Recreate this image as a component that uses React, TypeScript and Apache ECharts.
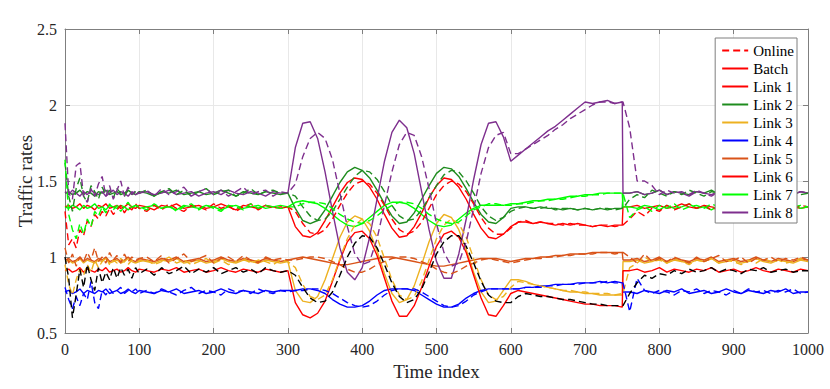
import React, { useEffect, useRef } from "react";
import * as echarts from "echarts";

// Time index samples (x values)
const T = [
  0, 5, 10, 15, 20, 25, 30, 35, 40, 45, 50, 55, 60, 65, 70, 75, 80, 85, 90, 95, 100,
  110, 120, 130, 140, 150, 160, 170, 180, 190, 200, 210, 220, 230, 240, 250, 260, 270, 280, 290,
  300, 310, 320, 330, 340, 350, 360, 370, 380, 390, 400, 410, 420, 430, 440, 450, 460, 470, 480, 490, 500,
  510, 520, 530, 540, 550, 560, 570, 580, 590, 600,
  610, 620, 630, 640, 650, 660, 670, 680, 690, 700, 710, 720, 730, 740, 750,
  751,
  760, 770, 780, 790, 800, 810, 820, 830, 840, 850, 860, 870, 880, 890, 900, 910, 920, 930, 940, 950, 960, 970, 980, 990, 1000,
];

const X_TICKS = [0, 100, 200, 300, 400, 500, 600, 700, 800, 900, 1000];
const Y_TICKS = [0.5, 1, 1.5, 2, 2.5];

// Link 1 (upper red)
const L1_BATCH = [
  1.33, 1.34, 1.32, 1.33, 1.35, 1.32, 1.34, 1.33, 1.31, 1.34, 1.33, 1.35, 1.32, 1.33, 1.34, 1.32, 1.33, 1.35, 1.33, 1.32, 1.34,
  1.33, 1.31, 1.34, 1.33, 1.35, 1.32, 1.33, 1.34, 1.32, 1.33, 1.35, 1.33, 1.31, 1.34, 1.33, 1.32, 1.34, 1.33, 1.32,
  1.33, 1.20, 1.14, 1.13, 1.16, 1.24, 1.33, 1.42, 1.49, 1.52, 1.51, 1.46, 1.38, 1.28, 1.19, 1.13, 1.14, 1.20, 1.29, 1.39, 1.47, 1.52, 1.51, 1.46, 1.38, 1.28, 1.19, 1.13, 1.12, 1.15, 1.20,
  1.23, 1.23, 1.22, 1.23, 1.22, 1.21, 1.22, 1.21, 1.22, 1.21, 1.20, 1.21, 1.20, 1.21, 1.21,
  1.33,
  1.33, 1.34, 1.32, 1.33, 1.34, 1.32, 1.33, 1.35, 1.33, 1.32, 1.34, 1.33, 1.32, 1.34, 1.33, 1.35, 1.32, 1.33, 1.34, 1.33, 1.32, 1.34, 1.33, 1.32, 1.33,
];
const L1_ONLINE = [
  1.30, 1.08, 1.12, 1.06, 1.18, 1.14, 1.24, 1.20, 1.28, 1.25, 1.30, 1.27, 1.32, 1.28, 1.31, 1.34, 1.29, 1.33, 1.31, 1.35, 1.32,
  1.30, 1.34, 1.31, 1.35, 1.32, 1.30, 1.34, 1.33, 1.31, 1.35, 1.32, 1.34, 1.30, 1.33, 1.35, 1.31, 1.34, 1.32, 1.33,
  1.33, 1.30, 1.22, 1.16, 1.15, 1.18, 1.25, 1.34, 1.42, 1.48, 1.50, 1.48, 1.42, 1.34, 1.25, 1.18, 1.15, 1.17, 1.23, 1.32, 1.41, 1.47, 1.50, 1.48, 1.43, 1.35, 1.26, 1.19, 1.15, 1.15, 1.19,
  1.23, 1.24, 1.22, 1.23, 1.22, 1.22, 1.21, 1.22, 1.21, 1.21, 1.20, 1.21, 1.21, 1.20, 1.21,
  1.21,
  1.25, 1.30, 1.27, 1.32, 1.30, 1.34, 1.31, 1.33, 1.35, 1.32, 1.34, 1.31, 1.33, 1.35, 1.32, 1.34, 1.31, 1.33, 1.35, 1.32, 1.34, 1.33, 1.31, 1.34, 1.33,
];
// Link 2 (dark green)
const L2_BATCH = [
  1.42, 1.43, 1.41, 1.42, 1.44, 1.41, 1.43, 1.42, 1.40, 1.43, 1.42, 1.44, 1.41, 1.42, 1.43, 1.41, 1.42, 1.44, 1.42, 1.41, 1.43,
  1.42, 1.40, 1.43, 1.42, 1.44, 1.41, 1.42, 1.43, 1.41, 1.42, 1.44, 1.42, 1.40, 1.43, 1.42, 1.41, 1.43, 1.42, 1.41,
  1.42, 1.32, 1.24, 1.22, 1.24, 1.31, 1.40, 1.49, 1.56, 1.59, 1.57, 1.52, 1.44, 1.35, 1.27, 1.22, 1.23, 1.29, 1.38, 1.47, 1.55, 1.59, 1.58, 1.53, 1.45, 1.36, 1.28, 1.23, 1.22, 1.26, 1.32,
  1.33, 1.33, 1.32, 1.33, 1.32, 1.32, 1.31, 1.32, 1.31, 1.32, 1.31, 1.32, 1.31, 1.32, 1.32,
  1.42,
  1.42, 1.43, 1.41, 1.42, 1.44, 1.41, 1.43, 1.42, 1.41, 1.43, 1.42, 1.44, 1.41, 1.42, 1.43, 1.41, 1.42, 1.44, 1.42, 1.41, 1.43, 1.42, 1.41, 1.43, 1.42,
];
const L2_ONLINE = [
  1.62, 1.40, 1.30, 1.45, 1.52, 1.40, 1.36, 1.47, 1.43, 1.38, 1.46, 1.41, 1.44, 1.39, 1.45, 1.42, 1.40, 1.44, 1.41, 1.43, 1.42,
  1.44, 1.40, 1.43, 1.45, 1.41, 1.44, 1.40, 1.43, 1.45, 1.41, 1.43, 1.44, 1.40, 1.42, 1.45, 1.41, 1.43, 1.44, 1.42,
  1.42, 1.40, 1.33, 1.27, 1.24, 1.25, 1.30, 1.38, 1.46, 1.53, 1.57, 1.56, 1.51, 1.43, 1.34, 1.27, 1.24, 1.25, 1.31, 1.39, 1.47, 1.54, 1.57, 1.56, 1.50, 1.42, 1.33, 1.27, 1.24, 1.26, 1.30,
  1.32, 1.33, 1.32, 1.32, 1.33, 1.31, 1.32, 1.32, 1.31, 1.32, 1.31, 1.32, 1.32, 1.31, 1.32,
  1.32,
  1.38, 1.41, 1.39, 1.44, 1.42, 1.40, 1.43, 1.41, 1.44, 1.42, 1.40, 1.43, 1.42, 1.44, 1.41, 1.43, 1.42, 1.40, 1.43, 1.44, 1.41, 1.42, 1.43, 1.41, 1.42,
];
// Link 3 (yellow-orange)
const L3_BATCH = [
  0.97, 0.98, 0.96, 0.97, 0.99, 0.96, 0.98, 0.97, 0.96, 0.98, 0.97, 0.99, 0.96, 0.97, 0.98, 0.96, 0.97, 0.99, 0.97, 0.96, 0.98,
  0.97, 0.96, 0.98, 0.97, 0.99, 0.96, 0.97, 0.98, 0.96, 0.97, 0.99, 0.97, 0.96, 0.98, 0.97, 0.96, 0.98, 0.97, 0.96,
  0.97, 0.78, 0.71, 0.70, 0.74, 0.85, 0.99, 1.13, 1.23, 1.27, 1.25, 1.17, 1.04, 0.89, 0.76, 0.70, 0.72, 0.81, 0.95, 1.10, 1.22, 1.28, 1.26, 1.18, 1.05, 0.90, 0.77, 0.70, 0.71, 0.78, 0.85,
  0.85, 0.84, 0.82, 0.81, 0.80, 0.79, 0.78, 0.77, 0.77, 0.76, 0.76, 0.75, 0.75, 0.75, 0.75,
  0.97,
  0.97, 0.98, 0.96, 0.97, 0.99, 0.96, 0.98, 0.97, 0.96, 0.98, 0.97, 0.99, 0.96, 0.97, 0.98, 0.96, 0.97, 0.99, 0.97, 0.96, 0.98, 0.97, 0.96, 0.98, 0.97,
];
const L3_ONLINE = [
  0.95, 0.82, 0.75, 0.85, 0.92, 0.88, 0.95, 0.90, 0.98, 0.93, 0.97, 1.00, 0.95, 0.98, 0.96, 0.99, 0.97, 0.95, 0.98, 0.96, 0.97,
  0.98, 0.95, 0.97, 1.00, 0.96, 0.98, 0.95, 0.97, 0.99, 0.96, 0.98, 0.95, 0.97, 0.99, 0.96, 0.98, 0.97, 0.95, 0.98,
  0.97, 0.93, 0.82, 0.74, 0.72, 0.75, 0.85, 0.99, 1.12, 1.21, 1.25, 1.22, 1.13, 0.99, 0.85, 0.75, 0.72, 0.74, 0.84, 0.98, 1.12, 1.21, 1.25, 1.22, 1.13, 0.99, 0.85, 0.75, 0.72, 0.74, 0.80,
  0.84, 0.83, 0.82, 0.81, 0.80, 0.79, 0.78, 0.78, 0.77, 0.77, 0.76, 0.76, 0.76, 0.75, 0.76,
  0.76,
  0.93, 0.96, 1.00, 0.97, 0.98, 0.96, 0.99, 0.97, 0.95, 0.98, 0.97, 0.99, 0.96, 0.98, 0.97, 0.95, 0.98, 0.96, 0.99, 0.97, 0.98, 0.96, 0.97, 0.99, 0.97,
];
// Link 4 (blue)
const L4_BATCH = [
  0.77, 0.78, 0.76, 0.77, 0.79, 0.76, 0.78, 0.77, 0.76, 0.78, 0.77, 0.79, 0.76, 0.77, 0.78, 0.76, 0.77, 0.79, 0.77, 0.76, 0.78,
  0.77, 0.76, 0.78, 0.77, 0.79, 0.76, 0.77, 0.78, 0.76, 0.77, 0.79, 0.77, 0.76, 0.78, 0.77, 0.76, 0.78, 0.77, 0.78,
  0.78, 0.78, 0.79, 0.79, 0.78, 0.76, 0.72, 0.69, 0.67, 0.67, 0.68, 0.71, 0.75, 0.78, 0.79, 0.79, 0.79, 0.78, 0.75, 0.72, 0.69, 0.67, 0.67, 0.69, 0.73, 0.76, 0.78, 0.79, 0.79, 0.79, 0.79,
  0.79, 0.80, 0.80, 0.81, 0.81, 0.82, 0.82, 0.82, 0.83, 0.83, 0.83, 0.84, 0.83, 0.84, 0.83,
  0.77,
  0.77, 0.76, 0.78, 0.77, 0.76, 0.78, 0.77, 0.79, 0.76, 0.77, 0.78, 0.76, 0.77, 0.79, 0.77, 0.76, 0.78, 0.77, 0.76, 0.78, 0.77, 0.79, 0.76, 0.77, 0.77,
];
const L4_ONLINE = [
  0.80, 0.72, 0.66, 0.74, 0.68, 0.76, 0.72, 0.84, 0.70, 0.66, 0.78, 0.75, 0.79, 0.76, 0.78, 0.80, 0.76, 0.78, 0.77, 0.79, 0.76,
  0.78, 0.76, 0.79, 0.77, 0.75, 0.78, 0.80, 0.76, 0.78, 0.77, 0.75, 0.79, 0.77, 0.78, 0.76, 0.79, 0.77, 0.76, 0.78,
  0.77, 0.78, 0.78, 0.79, 0.79, 0.78, 0.76, 0.73, 0.70, 0.68, 0.67, 0.68, 0.71, 0.75, 0.78, 0.79, 0.79, 0.79, 0.77, 0.74, 0.71, 0.68, 0.67, 0.68, 0.71, 0.75, 0.77, 0.79, 0.79, 0.79, 0.79,
  0.79, 0.80, 0.80, 0.80, 0.81, 0.81, 0.82, 0.82, 0.82, 0.83, 0.83, 0.83, 0.84, 0.83, 0.83,
  0.83,
  0.64, 0.86, 0.78, 0.76, 0.78, 0.77, 0.75, 0.78, 0.77, 0.79, 0.76, 0.78, 0.77, 0.75, 0.78, 0.76, 0.79, 0.77, 0.78, 0.76, 0.78, 0.77, 0.79, 0.76, 0.77,
];
// Link 5 (dark orange)
const L5_BATCH = [
  0.98, 0.99, 0.97, 0.98, 1.00, 0.97, 0.99, 0.98, 0.97, 0.99, 0.98, 1.00, 0.97, 0.98, 0.99, 0.97, 0.98, 1.00, 0.98, 0.97, 0.99,
  0.98, 0.97, 0.99, 0.98, 1.00, 0.97, 0.98, 0.99, 0.97, 0.98, 1.00, 0.98, 0.97, 0.99, 0.98, 0.97, 0.99, 0.98, 0.97,
  0.98, 0.99, 1.00, 0.99, 0.98, 0.97, 0.96, 0.95, 0.95, 0.96, 0.97, 0.98, 0.99, 1.00, 1.00, 0.99, 0.98, 0.97, 0.96, 0.95, 0.94, 0.94, 0.95, 0.96, 0.97, 0.98, 0.99, 0.99, 0.99, 0.98, 0.97,
  0.98, 0.99, 0.99, 1.00, 1.00, 1.01, 1.01, 1.02, 1.02, 1.02, 1.03, 1.03, 1.03, 1.03, 1.03,
  0.98,
  0.98, 0.99, 0.97, 0.98, 1.00, 0.97, 0.99, 0.98, 0.97, 0.99, 0.98, 1.00, 0.97, 0.98, 0.99, 0.97, 0.98, 1.00, 0.98, 0.97, 0.99, 0.98, 0.97, 0.99, 0.98,
];
const L5_ONLINE = [
  1.06, 0.96, 1.02, 0.94, 1.00, 0.97, 1.03, 0.98, 1.06, 0.97, 1.00, 0.96, 1.03, 0.98, 1.01, 0.96, 1.02, 0.97, 1.00, 0.98, 0.99,
  1.00, 0.97, 1.01, 0.96, 0.99, 1.02, 0.97, 0.99, 1.01, 0.96, 0.99, 1.00, 0.97, 1.01, 0.98, 0.96, 1.00, 0.98, 0.99,
  0.98, 0.98, 0.99, 1.00, 1.00, 0.99, 0.97, 0.95, 0.92, 0.90, 0.90, 0.92, 0.95, 0.97, 0.99, 1.00, 1.00, 0.99, 0.97, 0.95, 0.92, 0.90, 0.89, 0.91, 0.94, 0.96, 0.98, 0.99, 0.98, 0.97, 0.96,
  0.97, 0.98, 0.99, 0.99, 1.00, 1.00, 1.01, 1.01, 1.02, 1.02, 1.02, 1.03, 1.03, 1.02, 1.03,
  1.03,
  1.00, 0.96, 1.02, 0.97, 0.99, 0.97, 1.00, 0.98, 0.96, 1.00, 0.97, 0.99, 1.01, 0.97, 0.98, 1.00, 0.96, 0.99, 0.98, 1.00, 0.97, 0.99, 0.98, 1.00, 0.98,
];
// Link 6 (lower red; online drawn black)
const L6_BATCH = [
  0.91, 0.92, 0.90, 0.91, 0.93, 0.90, 0.92, 0.91, 0.90, 0.92, 0.91, 0.93, 0.90, 0.91, 0.92, 0.90, 0.91, 0.93, 0.91, 0.90, 0.92,
  0.91, 0.90, 0.92, 0.91, 0.93, 0.90, 0.91, 0.92, 0.90, 0.91, 0.93, 0.91, 0.90, 0.92, 0.91, 0.90, 0.92, 0.91, 0.90,
  0.91, 0.70, 0.62, 0.60, 0.63, 0.71, 0.84, 0.98, 1.10, 1.16, 1.17, 1.12, 1.01, 0.86, 0.71, 0.61, 0.61, 0.68, 0.80, 0.94, 1.07, 1.15, 1.17, 1.13, 1.03, 0.88, 0.73, 0.62, 0.61, 0.68, 0.76,
  0.78, 0.77, 0.76, 0.75, 0.74, 0.73, 0.72, 0.71, 0.70, 0.69, 0.69, 0.68, 0.68, 0.68, 0.67,
  0.91,
  0.91, 0.92, 0.90, 0.91, 0.93, 0.90, 0.92, 0.91, 0.90, 0.92, 0.91, 0.93, 0.90, 0.91, 0.92, 0.90, 0.91, 0.93, 0.91, 0.90, 0.92, 0.91, 0.90, 0.92, 0.91,
];
const L6_ONLINE = [
  1.00, 0.86, 0.60, 0.75, 0.92, 0.80, 0.95, 0.85, 0.78, 0.93, 0.83, 0.90, 0.85, 0.93, 0.86, 0.93, 0.88, 0.92, 0.86, 0.93, 0.89,
  0.92, 0.88, 0.93, 0.89, 0.91, 0.94, 0.89, 0.92, 0.90, 0.93, 0.89, 0.91, 0.93, 0.90, 0.92, 0.89, 0.93, 0.91, 0.90,
  0.91, 0.88, 0.80, 0.73, 0.70, 0.71, 0.77, 0.88, 1.00, 1.09, 1.14, 1.13, 1.06, 0.95, 0.83, 0.74, 0.70, 0.72, 0.79, 0.90, 1.02, 1.10, 1.14, 1.14, 1.07, 0.96, 0.84, 0.75, 0.71, 0.70, 0.70,
  0.74, 0.76, 0.75, 0.74, 0.74, 0.73, 0.72, 0.72, 0.71, 0.70, 0.69, 0.69, 0.68, 0.68, 0.68,
  0.68,
  0.76, 0.83, 0.88, 0.86, 0.89, 0.88, 0.91, 0.89, 0.92, 0.90, 0.91, 0.93, 0.90, 0.92, 0.91, 0.89, 0.92, 0.91, 0.93, 0.90, 0.91, 0.92, 0.90, 0.91, 0.91,
];
// Link 7 (bright green)
const L7_BATCH = [
  1.33, 1.32, 1.34, 1.33, 1.31, 1.34, 1.32, 1.33, 1.35, 1.32, 1.33, 1.31, 1.34, 1.33, 1.32, 1.34, 1.33, 1.31, 1.33, 1.34, 1.32,
  1.33, 1.34, 1.32, 1.33, 1.31, 1.34, 1.33, 1.32, 1.34, 1.33, 1.31, 1.33, 1.34, 1.32, 1.33, 1.34, 1.32, 1.33, 1.34,
  1.33, 1.36, 1.37, 1.36, 1.35, 1.32, 1.28, 1.24, 1.21, 1.20, 1.22, 1.26, 1.30, 1.34, 1.36, 1.36, 1.35, 1.32, 1.28, 1.24, 1.21, 1.20, 1.21, 1.25, 1.29, 1.32, 1.34, 1.34, 1.34, 1.34, 1.35,
  1.35, 1.36, 1.37, 1.37, 1.38, 1.38, 1.39, 1.40, 1.40, 1.41, 1.41, 1.42, 1.42, 1.42, 1.42,
  1.33,
  1.33, 1.32, 1.34, 1.33, 1.31, 1.34, 1.32, 1.33, 1.35, 1.32, 1.33, 1.31, 1.34, 1.33, 1.32, 1.34, 1.33, 1.31, 1.33, 1.34, 1.32, 1.33, 1.34, 1.32, 1.33,
];
const L7_ONLINE = [
  1.64, 1.28, 1.18, 1.12, 1.22, 1.15, 1.25, 1.20, 1.30, 1.27, 1.33, 1.29, 1.35, 1.31, 1.34, 1.30, 1.33, 1.36, 1.32, 1.34, 1.33,
  1.31, 1.35, 1.32, 1.34, 1.30, 1.33, 1.35, 1.31, 1.34, 1.32, 1.30, 1.34, 1.33, 1.31, 1.35, 1.32, 1.34, 1.33, 1.32,
  1.33, 1.33, 1.35, 1.36, 1.36, 1.35, 1.32, 1.28, 1.25, 1.23, 1.22, 1.24, 1.27, 1.31, 1.34, 1.36, 1.36, 1.35, 1.32, 1.28, 1.25, 1.23, 1.22, 1.23, 1.27, 1.31, 1.33, 1.35, 1.35, 1.34, 1.34,
  1.35, 1.35, 1.36, 1.37, 1.37, 1.38, 1.38, 1.39, 1.40, 1.40, 1.41, 1.41, 1.42, 1.42, 1.42,
  1.42,
  1.26, 1.31, 1.33, 1.30, 1.34, 1.32, 1.35, 1.31, 1.33, 1.34, 1.32, 1.35, 1.33, 1.31, 1.34, 1.33, 1.32, 1.35, 1.33, 1.31, 1.34, 1.32, 1.33, 1.34, 1.33,
];
// Link 8 (purple)
const L8_BATCH = [
  1.43, 1.41, 1.44, 1.42, 1.40, 1.43, 1.41, 1.44, 1.42, 1.41, 1.43, 1.40, 1.42, 1.44, 1.41, 1.43, 1.42, 1.40, 1.43, 1.41, 1.42,
  1.43, 1.41, 1.42, 1.44, 1.41, 1.42, 1.43, 1.40, 1.42, 1.43, 1.41, 1.44, 1.42, 1.41, 1.43, 1.42, 1.40, 1.43, 1.42,
  1.42, 1.72, 1.88, 1.89, 1.78, 1.56, 1.30, 1.06, 0.90, 0.85, 0.93, 1.13, 1.38, 1.63, 1.82, 1.90, 1.85, 1.68, 1.43, 1.18, 0.97, 0.86, 0.86, 1.02, 1.25, 1.51, 1.74, 1.88, 1.89, 1.79, 1.63,
  1.67, 1.71, 1.75, 1.79, 1.83, 1.86, 1.90, 1.94, 1.98, 2.02, 2.01, 2.02, 2.03, 2.01, 2.02,
  1.42,
  1.42, 1.43, 1.41, 1.42, 1.44, 1.41, 1.43, 1.42, 1.40, 1.43, 1.42, 1.41, 1.43, 1.42, 1.44, 1.41, 1.42, 1.43, 1.41, 1.42, 1.44, 1.42, 1.41, 1.43, 1.42,
];
const L8_ONLINE = [
  1.88, 1.42, 1.38, 1.60, 1.62, 1.40, 1.36, 1.45, 1.40, 1.48, 1.53, 1.40, 1.47, 1.38, 1.44, 1.50, 1.40, 1.46, 1.41, 1.44, 1.42,
  1.44, 1.40, 1.45, 1.41, 1.43, 1.46, 1.40, 1.43, 1.45, 1.41, 1.44, 1.40, 1.43, 1.46, 1.41, 1.43, 1.44, 1.40, 1.43,
  1.42, 1.48, 1.66, 1.78, 1.82, 1.78, 1.64, 1.42, 1.20, 1.02, 0.95, 0.97, 1.12, 1.34, 1.56, 1.74, 1.82, 1.80, 1.66, 1.45, 1.22, 1.03, 0.94, 0.96, 1.10, 1.32, 1.55, 1.72, 1.80, 1.82, 1.68,
  1.68, 1.71, 1.74, 1.77, 1.80, 1.84, 1.87, 1.91, 1.94, 1.97, 2.00, 2.02, 2.02, 2.01, 2.02,
  2.02,
  1.85, 1.50, 1.50, 1.47, 1.41, 1.44, 1.42, 1.43, 1.41, 1.44, 1.42, 1.40, 1.43, 1.42, 1.44, 1.41, 1.43, 1.42, 1.40, 1.43, 1.42, 1.44, 1.41, 1.43, 1.42,
];

const LINK_NAMES = ["Link 1", "Link 2", "Link 3", "Link 4", "Link 5", "Link 6", "Link 7", "Link 8"];
const BATCH = [L1_BATCH, L2_BATCH, L3_BATCH, L4_BATCH, L5_BATCH, L6_BATCH, L7_BATCH, L8_BATCH];
const ONLINE = [L1_ONLINE, L2_ONLINE, L3_ONLINE, L4_ONLINE, L5_ONLINE, L6_ONLINE, L7_ONLINE, L8_ONLINE];

const COLORS = ["#FF0000", "#1E8C1E", "#EDB120", "#0000FF", "#D95319", "#FF0000", "#00FF00", "#7E2F8E"];
const ONLINE_COLORS = ["#FF0000", "#1E8C1E", "#EDB120", "#0000FF", "#D95319", "#000000", "#00FF00", "#7E2F8E"];

const FONT = "'Liberation Serif', 'Times New Roman', 'DejaVu Serif', serif";
const AXIS_COLOR = "#7f7f7f";
const DASH = [7, 4];
const LW = 1.4;

function pairs(vals: number[]) {
  return T.map((t, i) => [t, vals[i]]);
}

export default function App() {
  const ref = useRef<HTMLDivElement>(null);

  useEffect(() => {
    if (!ref.current) return;
    const chart = echarts.init(ref.current, null, { renderer: "svg" });

    const series: any[] = [
      {
        name: "Online",
        type: "line",
        data: [],
        symbol: "none",
        lineStyle: { color: "#FF0000", width: LW, type: DASH },
        itemStyle: { color: "#FF0000" },
      },
      {
        name: "Batch",
        type: "line",
        data: [],
        symbol: "none",
        lineStyle: { color: "#FF0000", width: LW, type: "solid" },
        itemStyle: { color: "#FF0000" },
      },
    ];
    LINK_NAMES.forEach((name, k) => {
      series.push({
        name,
        type: "line",
        data: pairs(BATCH[k]),
        symbol: "none",
        showSymbol: false,
        silent: true,
        lineStyle: { color: COLORS[k], width: LW, type: "solid" },
        itemStyle: { color: COLORS[k] },
      });
    });
    LINK_NAMES.forEach((name, k) => {
      series.push({
        name,
        type: "line",
        data: pairs(ONLINE[k]),
        symbol: "none",
        showSymbol: false,
        silent: true,
        lineStyle: { color: ONLINE_COLORS[k], width: LW, type: DASH },
        itemStyle: { color: ONLINE_COLORS[k] },
      });
    });

    const axisCommon = {
      axisLine: { show: true, onZero: false, lineStyle: { color: AXIS_COLOR, width: 1 } },
      axisTick: { show: true, inside: true, length: 5, lineStyle: { color: AXIS_COLOR, width: 1 } },
    };
    const fmt = (v: number) => String(v);

    chart.setOption({
      animation: false,
      backgroundColor: "#ffffff",
      textStyle: { fontFamily: FONT },
      grid: { left: 65, right: 22, top: 29, bottom: 56 },
      legend: {
        data: ["Online", "Batch", ...LINK_NAMES],
        orient: "vertical",
        right: 33,
        top: 38,
        align: "left",
        padding: [5, 3, 3, 6],
        itemGap: 3,
        itemWidth: 26,
        itemHeight: 14,
        itemTextGap: 7,
        backgroundColor: "#ffffff",
        borderColor: "#7f7f7f",
        borderWidth: 1,
        borderRadius: 0,
        selectedMode: false,
        itemStyle: { opacity: 0 },
        textStyle: { fontFamily: FONT, fontSize: 15, color: "#000000" },
      },
      xAxis: [
        {
          type: "value",
          min: X_TICKS[0],
          max: X_TICKS[X_TICKS.length - 1],
          interval: X_TICKS[1] - X_TICKS[0],
          position: "bottom",
          name: "Time index",
          nameLocation: "middle",
          nameGap: 29,
          nameMoveOverlap: false,
          nameTextStyle: { fontFamily: FONT, fontSize: 19, color: "#262626" },
          ...axisCommon,
          axisLabel: { fontFamily: FONT, fontSize: 16, color: "#262626", margin: 8, formatter: fmt },
          splitLine: { show: true, lineStyle: { color: "#e8e8e8", width: 1 } },
        },
        {
          type: "value",
          min: X_TICKS[0],
          max: X_TICKS[X_TICKS.length - 1],
          interval: X_TICKS[1] - X_TICKS[0],
          position: "top",
          ...axisCommon,
          axisLabel: { show: false },
          splitLine: { show: false },
        },
      ],
      yAxis: [
        {
          type: "value",
          min: Y_TICKS[0],
          max: Y_TICKS[Y_TICKS.length - 1],
          interval: Y_TICKS[1] - Y_TICKS[0],
          position: "left",
          name: "Traffic rates",
          nameLocation: "middle",
          nameGap: 30,
          nameMoveOverlap: false,
          nameTextStyle: { fontFamily: FONT, fontSize: 19, color: "#262626" },
          ...axisCommon,
          axisLabel: { fontFamily: FONT, fontSize: 16, color: "#262626", margin: 8, formatter: fmt },
          splitLine: { show: true, lineStyle: { color: "#e8e8e8", width: 1 } },
        },
        {
          type: "value",
          min: Y_TICKS[0],
          max: Y_TICKS[Y_TICKS.length - 1],
          interval: Y_TICKS[1] - Y_TICKS[0],
          position: "right",
          ...axisCommon,
          axisLabel: { show: false },
          splitLine: { show: false },
        },
      ],
      series,
    });

    return () => chart.dispose();
  }, []);

  return (
    <div
      ref={ref}
      style={{ position: "fixed", left: 0, top: 0, width: 830, height: 389 }}
    />
  );
}
